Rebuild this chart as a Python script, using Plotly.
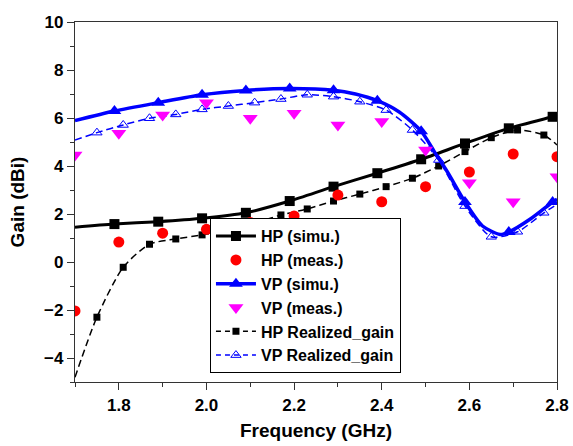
import plotly.graph_objects as go

# HP simulated gain
hp_sim_f = [1.70, 1.79, 1.89, 1.99, 2.09, 2.19, 2.29, 2.39, 2.49, 2.59, 2.69, 2.79, 2.80]
hp_sim_g = [1.45, 1.58, 1.68, 1.82, 2.05, 2.54, 3.14, 3.70, 4.28, 4.94, 5.57, 6.05, 6.10]
hp_sim_mark = [0, 1, 1, 1, 1, 1, 1, 1, 1, 1, 1, 1, 0]

# HP measured gain
hp_meas_f = [1.7, 1.8, 1.9, 2.0, 2.1, 2.2, 2.3, 2.4, 2.5, 2.6, 2.7, 2.8]
hp_meas_g = [-2.04, 0.83, 1.20, 1.36, 1.65, 1.92, 2.79, 2.51, 3.14, 3.75, 4.50, 4.39]

# VP simulated gain
vp_sim_f = [1.70, 1.79, 1.89, 1.99, 2.09, 2.19, 2.29, 2.34, 2.39, 2.44, 2.49, 2.52, 2.55,
            2.59, 2.63, 2.67, 2.69, 2.74, 2.79, 2.80]
vp_sim_g = [5.89, 6.29, 6.64, 6.97, 7.15, 7.23, 7.16, 7.00, 6.72, 6.25, 5.45, 4.60, 3.75,
            2.50, 1.50, 1.15, 1.25, 1.80, 2.50, 2.62]
vp_sim_mark = [0, 1, 1, 1, 1, 1, 1, 0, 1, 0, 1, 0, 0, 1, 0, 0, 1, 0, 1, 0]

# VP measured gain
vp_meas_f = [1.7, 1.8, 1.9, 2.0, 2.1, 2.2, 2.3, 2.4, 2.5, 2.6, 2.7, 2.8]
vp_meas_g = [4.46, 5.36, 6.12, 6.64, 5.99, 6.20, 5.71, 5.85, 4.67, 3.30, 2.51, 3.55]

# Realized gains
rg_f = [1.70, 1.75, 1.81, 1.87, 1.93, 1.99, 2.05, 2.11, 2.17, 2.23, 2.29, 2.35, 2.41,
        2.47, 2.53, 2.59, 2.65, 2.71, 2.77, 2.80]
hp_rg_g = [-4.80, -2.30, -0.22, 0.74, 0.96, 1.13, 1.32, 1.62, 1.96, 2.21, 2.54, 2.83, 3.14,
           3.49, 4.00, 4.60, 5.18, 5.50, 5.29, 4.88]
vp_rg_g = [5.08, 5.39, 5.71, 5.99, 6.15, 6.36, 6.50, 6.64, 6.79, 6.97, 6.89, 6.68, 6.33,
           5.50, 4.25, 2.33, 1.05, 1.26, 2.05, 2.40]
rg_mark = [0] + [1] * 18 + [0]

names = ["HP (simu.)", "HP (meas.)", "VP (simu.)", "VP (meas.)",
         "HP Realized_gain", "VP Realized_gain"]

BLUE = "#0000FF"
MAG = "#FF00FF"
RED = "#FF0000"
FONT = "Liberation Sans, Arial, sans-serif"
DASH = "7px,4px"

fig = go.Figure()


def mk(symbol, color, size, **extra):
    d = dict(symbol=symbol, color=color, size=size, opacity=1, line=dict(width=0, color=color))
    d.update(extra)
    return d


# data traces
fig.add_trace(go.Scatter(x=rg_f, y=hp_rg_g, mode="lines+markers", showlegend=False,
                         line=dict(color="black", width=1.5, dash=DASH, shape="spline", smoothing=0.7),
                         marker=mk("square", "black", [7 * m for m in rg_mark])))
fig.add_trace(go.Scatter(x=rg_f, y=vp_rg_g, mode="lines+markers", showlegend=False,
                         line=dict(color=BLUE, width=1.5, dash=DASH, shape="spline", smoothing=0.7),
                         marker=mk("triangle-up-open", BLUE, [9 * m for m in rg_mark],
                                   line=dict(width=1, color=BLUE))))
fig.add_trace(go.Scatter(x=hp_sim_f, y=hp_sim_g, mode="lines+markers", showlegend=False,
                         line=dict(color="black", width=3, shape="spline", smoothing=0.7),
                         marker=mk("square", "black", [10 * m for m in hp_sim_mark])))
fig.add_trace(go.Scatter(x=vp_sim_f, y=vp_sim_g, mode="lines+markers", showlegend=False,
                         line=dict(color=BLUE, width=3.5, shape="spline", smoothing=0.7),
                         marker=mk("triangle-up", BLUE, [12 * m for m in vp_sim_mark])))
fig.add_trace(go.Scatter(x=hp_meas_f, y=hp_meas_g, mode="markers", showlegend=False,
                         marker=mk("circle", RED, 11)))
fig.add_trace(go.Scatter(x=vp_meas_f, y=vp_meas_g, mode="markers", showlegend=False,
                         marker=mk("triangle-down", MAG, 13)))

# legend entries
leg = [
    dict(mode="lines+markers", line=dict(color="black", width=3), marker=mk("square", "black", 10)),
    dict(mode="markers", marker=mk("circle", RED, 11)),
    dict(mode="lines+markers", line=dict(color=BLUE, width=3.5), marker=mk("triangle-up", BLUE, 12)),
    dict(mode="markers", marker=mk("triangle-down", MAG, 13)),
    dict(mode="lines+markers", line=dict(color="black", width=1.5, dash="5px,4px"), marker=mk("square", "black", 7)),
    dict(mode="lines+markers", line=dict(color=BLUE, width=1.5, dash="5px,4px"),
         marker=mk("triangle-up-open", BLUE, 9, line=dict(width=1, color=BLUE))),
]
for n, kw in zip(names, leg):
    fig.add_trace(go.Scatter(x=[None], y=[None], name=n, showlegend=True, **kw))

axis_common = dict(
    showline=True, linecolor="#333333", linewidth=1.2, mirror=True,
    ticks="outside", ticklen=7, tickwidth=1.2, tickcolor="#333333",
    showgrid=False, zeroline=False, automargin=False,
    tickfont=dict(family=FONT, size=17, color="black", weight="bold"),
)

fig.update_layout(
    width=573, height=446, autosize=False,
    margin=dict(l=75, r=16, t=22, b=64),
    paper_bgcolor="white", plot_bgcolor="white",
    font=dict(family=FONT, color="black"),
    xaxis=dict(range=[1.7, 2.8], dtick=0.2, tick0=1.8, tickformat=".1f",
               minor=dict(dtick=0.1, tick0=1.7, ticks="outside", ticklen=4, tickcolor="#333333"),
               title=dict(text="Frequency (GHz)", font=dict(family=FONT, size=19, weight="bold"), standoff=10),
               **axis_common),
    yaxis=dict(range=[-5, 10], dtick=2, tick0=0,
               minor=dict(dtick=1, tick0=-5, ticks="outside", ticklen=4, tickcolor="#333333"),
               title=dict(text="Gain (dBi)", font=dict(family=FONT, size=19, weight="bold"), standoff=14),
               **axis_common),
    legend=dict(x=0.28, y=0.455, xanchor="left", yanchor="top",
                bgcolor="white", bordercolor="black", borderwidth=1,
                font=dict(family=FONT, size=16, weight="bold"), tracegroupgap=0, itemwidth=40),
)

fig.write_html("out.html", config={"displayModeBar": False, "responsive": False},
               post_script="document.body.style.margin='0';document.body.style.padding='0';")
